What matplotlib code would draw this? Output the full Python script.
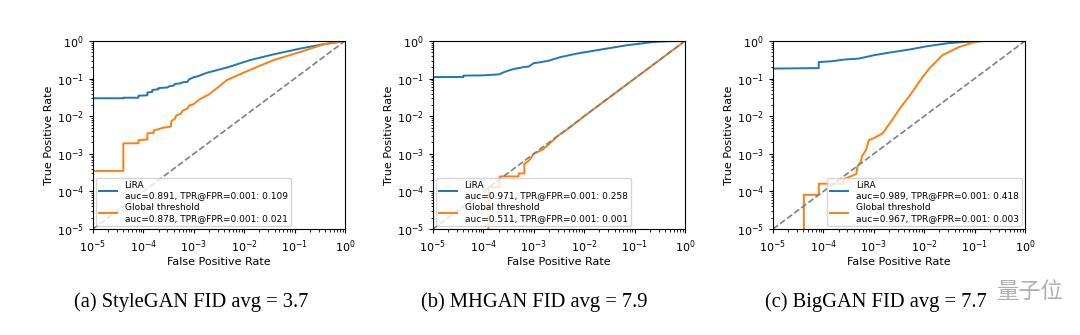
import matplotlib
matplotlib.use("Agg")
import matplotlib.pyplot as plt

# ---------------- data ----------------
captions = ["(a) StyleGAN FID avg = 3.7", "(b) MHGAN FID avg = 7.9", "(c) BigGAN FID avg = 7.7"]
series_names = ["LiRA", "Global threshold"]

lira_auc = [0.891, 0.971, 0.989]
lira_tpr_at = [0.109, 0.258, 0.418]
glob_auc = [0.878, 0.511, 0.967]
glob_tpr_at = [0.021, 0.001, 0.003]

# StyleGAN
s1_lira_fpr = [1e-5, 4e-5, 4e-5, 8e-5, 8e-5, 1.2e-4, 1.2e-4, 1.5e-4, 1.5e-4, 2e-4, 2e-4, 3e-4, 3.3e-4, 4e-4,
               4.2e-4, 5.5e-4, 6e-4, 7.5e-4, 8e-4, 1e-3, 1.2e-3, 1.8e-3, 3e-3, 5e-3, 1.3e-2, 3.8e-2, 0.13, 0.37, 1.0]
s1_lira_tpr = [0.030, 0.030, 0.031, 0.031, 0.035, 0.036, 0.043, 0.044, 0.050, 0.052, 0.056, 0.058, 0.063, 0.065,
               0.072, 0.075, 0.080, 0.082, 0.095, 0.109, 0.115, 0.142, 0.170, 0.205, 0.31, 0.44, 0.63, 0.82, 1.0]
s1_glob_fpr = [1e-5, 4e-5, 4e-5, 8e-5, 8e-5, 1.2e-4, 1.2e-4, 1.6e-4, 1.6e-4, 2e-4, 2.4e-4, 3.5e-4, 3.6e-4, 4.2e-4,
               4.5e-4, 5.5e-4, 6e-4, 7.5e-4, 8e-4, 1e-3, 1.3e-3, 2e-3, 3e-3, 4.5e-3, 1.3e-2, 3.8e-2, 0.13, 0.37, 1.0]
s1_glob_tpr = [3.5e-4, 3.5e-4, 1.9e-3, 1.9e-3, 2.3e-3, 2.4e-3, 3.5e-3, 3.6e-3, 4.2e-3, 4.5e-3, 4.9e-3, 5.3e-3, 7.5e-3, 8.5e-3,
               1.05e-2, 1.15e-2, 1.4e-2, 1.6e-2, 1.9e-2, 2.1e-2, 2.8e-2, 3.8e-2, 5.8e-2, 0.091, 0.17, 0.31, 0.51, 0.81, 1.0]

# MHGAN
s2_lira_fpr = [1e-5, 4e-5, 4e-5, 1e-4, 2.1e-4, 2.3e-4, 3e-4, 4e-4, 5e-4, 6e-4, 8e-4, 1e-3, 1.3e-3, 2e-3,
               3.3e-3, 7e-3, 2.1e-2, 7e-2, 0.23, 0.5, 1.0]
s2_lira_tpr = [0.11, 0.11, 0.12, 0.122, 0.13, 0.14, 0.16, 0.18, 0.19, 0.20, 0.21, 0.258, 0.27, 0.30,
               0.37, 0.46, 0.59, 0.77, 0.94, 0.99, 1.0]
s2_glob_fpr = [1e-5, 1.26e-4, 1.26e-4, 2.1e-4, 2.1e-4, 5e-4, 5e-4, 6.5e-4, 6.5e-4, 8e-4, 1e-3, 1.5e-3, 2e-3,
               3e-3, 5e-3, 1e-2, 3e-2, 0.1, 0.3, 1.0]
s2_glob_tpr = [1e-6, 1e-6, 1.3e-4, 1.3e-4, 2.5e-4, 2.5e-4, 3e-4, 3e-4, 5.5e-4, 6.5e-4, 1e-3, 1.3e-3, 1.8e-3,
               3e-3, 4.8e-3, 1e-2, 3e-2, 0.1, 0.3, 1.0]

# BigGAN
s3_lira_fpr = [1e-5, 8.1e-5, 8.1e-5, 1.5e-4, 2.5e-4, 5e-4, 1e-3, 2e-3, 5e-3, 1.1e-2, 3.2e-2, 0.1, 0.2, 1.0]
s3_lira_tpr = [0.185, 0.19, 0.275, 0.29, 0.32, 0.34, 0.418, 0.49, 0.59, 0.72, 0.885, 0.98, 1.0, 1.0]
s3_glob_fpr = [1e-5, 4.1e-5, 4.1e-5, 8.1e-5, 8.1e-5, 2.5e-4, 2.5e-4, 4.5e-4, 4.7e-4, 5.5e-4, 5.8e-4, 7e-4, 8e-4,
               1e-3, 1.5e-3, 2.3e-3, 3.5e-3, 5e-3, 9.3e-3, 1.26e-2, 2.3e-2, 4.9e-2, 0.1, 0.15, 1.0]
s3_glob_tpr = [1e-6, 1e-6, 8.1e-5, 8.1e-5, 1.6e-4, 1.6e-4, 2.1e-4, 2.9e-4, 4.5e-4, 6e-4, 8.5e-4, 1.26e-3, 2.3e-3,
               2.6e-3, 3.5e-3, 7.9e-3, 1.8e-2, 3.3e-2, 0.11, 0.185, 0.42, 0.69, 0.94, 1.0, 1.0]

lira_fpr = [s1_lira_fpr, s2_lira_fpr, s3_lira_fpr]
lira_tpr = [s1_lira_tpr, s2_lira_tpr, s3_lira_tpr]
glob_fpr = [s1_glob_fpr, s2_glob_fpr, s3_glob_fpr]
glob_tpr = [s1_glob_tpr, s2_glob_tpr, s3_glob_tpr]

legend_locs = ["lower left", "lower left", "lower right"]

# ---------------- figure ----------------
W, H = 1080, 335
fig = plt.figure(figsize=(W / 100, H / 100), dpi=100)

ax_lefts = [93, 433, 773]
ax_w, ax_top, ax_bottom = 252, 41, 229
cap_x = [191, 534, 876]
cap_y = 302

for i in range(3):
    ax = fig.add_axes([ax_lefts[i] / W, 1 - ax_bottom / H, ax_w / W, (ax_bottom - ax_top) / H])
    ax.plot(lira_fpr[i], lira_tpr[i], color="#1f77b4", lw=1.4,
            label=f"{series_names[0]}\nauc={lira_auc[i]:.3f}, TPR@FPR=0.001: {lira_tpr_at[i]:.3f}")
    ax.plot(glob_fpr[i], glob_tpr[i], color="#ff7f0e", lw=1.4,
            label=f"{series_names[1]}\nauc={glob_auc[i]:.3f}, TPR@FPR=0.001: {glob_tpr_at[i]:.3f}")
    ax.plot([1e-5, 1], [1e-5, 1], ls="--", color="gray", lw=1.2)
    ax.set_xscale("log")
    ax.set_yscale("log")
    ax.set_xlim(1e-5, 1)
    ax.set_ylim(1e-5, 1)
    ax.tick_params(labelsize=8, length=3, width=0.8)
    ax.tick_params(which="minor", length=1.8, width=0.6)
    ax.set_xlabel("False Positive Rate", fontsize=8, labelpad=2)
    ax.set_ylabel("True Positive Rate", fontsize=8, labelpad=2)
    ax.legend(loc=legend_locs[i], fontsize=6.5, handlelength=2.0, borderpad=0.4,
              labelspacing=0.3, borderaxespad=0.3)
    fig.text(cap_x[i] / W, 1 - cap_y / H, captions[i], ha="center", va="center",
             fontsize=14.8, family="Liberation Serif")

fig.text(1030 / W, 1 - 291 / H, "量子位", ha="center", va="center", fontsize=16,
         color="#b0b0b0", family=["Noto Sans CJK SC", "DejaVu Sans"])

fig.savefig("out.png", dpi=100, facecolor="white")
